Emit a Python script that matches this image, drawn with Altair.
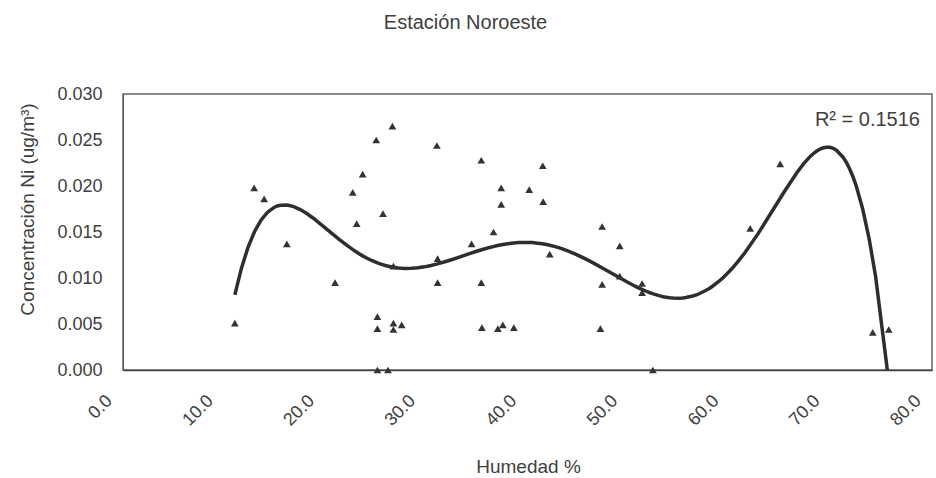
import altair as alt
import pandas as pd

# Humedad relativa (%) y concentración de níquel (ug/m³), estación noroeste
humedad = [
    11.06, 12.97, 13.96, 16.20, 20.97, 22.72, 23.70, 25.04, 23.11, 25.16,
    25.16, 25.16, 26.20, 26.64, 25.71, 26.74, 26.74, 26.74, 27.56, 31.04,
    31.11, 31.11, 35.43, 34.47, 35.43, 35.49, 36.64, 37.40, 37.40, 37.07,
    37.56, 38.65, 40.17, 41.51, 41.55, 42.20, 47.38, 49.12, 47.38, 47.21,
    49.12, 51.33, 51.33, 52.40, 62.02, 64.99, 74.14, 75.72,
]
niquel = [
    0.0051, 0.0198, 0.0186, 0.0137, 0.0095, 0.0193, 0.0213, 0.0250, 0.0159, 0.0058,
    0.0045, 0.0000, 0.0000, 0.0265, 0.0170, 0.0113, 0.0051, 0.0044, 0.0049, 0.0244,
    0.0121, 0.0095, 0.0228, 0.0137, 0.0095, 0.0046, 0.0150, 0.0198, 0.0180, 0.0045,
    0.0049, 0.0046, 0.0196, 0.0222, 0.0183, 0.0126, 0.0156, 0.0135, 0.0093, 0.0045,
    0.0102, 0.0094, 0.0084, 0.0000, 0.0154, 0.0224, 0.0041, 0.0044,
]
x_ticks = [0, 10, 20, 30, 40, 50, 60, 70, 80]
y_ticks = [0.000, 0.005, 0.010, 0.015, 0.020, 0.025, 0.030]
r2_label = "R² = 0.1516"

df = pd.DataFrame({"Humedad": humedad, "Ni": niquel})

TEXT = "#404040"
FONT = "Liberation Sans"

x_enc = alt.X(
    "Humedad:Q",
    scale=alt.Scale(domain=[0, 80], nice=False, zero=False),
    axis=alt.Axis(
        title="Humedad %",
        values=x_ticks,
        format=".1f",
        labelAngle=-45,
        labelAlign="right",
        labelBaseline="middle",
        labelPadding=28,
        labelOffset=-14,
        labelFont=FONT,
        labelFontSize=18,
        labelColor=TEXT,
        ticks=False,
        grid=False,
        domainColor="#444444",
        domainWidth=1.5,
        titleFont=FONT,
        titleFontSize=19,
        titleFontWeight="normal",
        titleColor=TEXT,
        titleX=405,
        titleY=102,
        titleAlign="center",
        titleBaseline="alphabetic",
    ),
)
y_enc = alt.Y(
    "Ni:Q",
    scale=alt.Scale(domain=[0, 0.03], nice=False),
    axis=alt.Axis(
        title="Concentración Ni (ug/m³)",
        values=y_ticks,
        format=".3f",
        labelPadding=21,
        labelFont=FONT,
        labelFontSize=18,
        labelColor=TEXT,
        ticks=False,
        grid=False,
        domainColor="#555555",
        titleFont=FONT,
        titleFontSize=19,
        titleFontWeight="normal",
        titleColor=TEXT,
        titleAngle=-90,
        titleX=-90,
        titleY=115,
        titleAlign="center",
        titleBaseline="alphabetic",
    ),
)

points = alt.Chart(df).mark_point(
    shape="triangle-up", filled=True, size=60, color="#333333", opacity=1, clip=False
).encode(x=x_enc, y=y_enc)

# Línea de tendencia polinómica de orden 6
trend = (
    alt.Chart(df)
    .transform_regression("Humedad", "Ni", method="poly", order=6)
    .mark_line(color="#2e2e2e", strokeWidth=3.5, clip=True)
    .encode(x="Humedad:Q", y="Ni:Q")
)

r2 = alt.Chart(pd.DataFrame({"t": [r2_label]})).mark_text(
    align="right", baseline="alphabetic", fontSize=20, font=FONT, color=TEXT
).encode(text="t:N", x=alt.value(797), y=alt.value(32))

chart = (
    alt.layer(trend, points, r2)
    .properties(
        width=809,
        height=276,
        background="white",
        title=alt.TitleParams(
            "Estación Noroeste",
            fontSize=20,
            font=FONT,
            fontWeight="normal",
            color=TEXT,
            anchor="middle",
            dx=-62,
            offset=52,
        ),
        autosize=alt.AutoSizeParams(type="none"),
        padding={"left": 123, "top": 94, "right": 4, "bottom": 108},
    )
    .configure_view(stroke="#666666", strokeWidth=1.5)
)

chart.save("out.html", embed_options={"renderer": "svg", "actions": False})
